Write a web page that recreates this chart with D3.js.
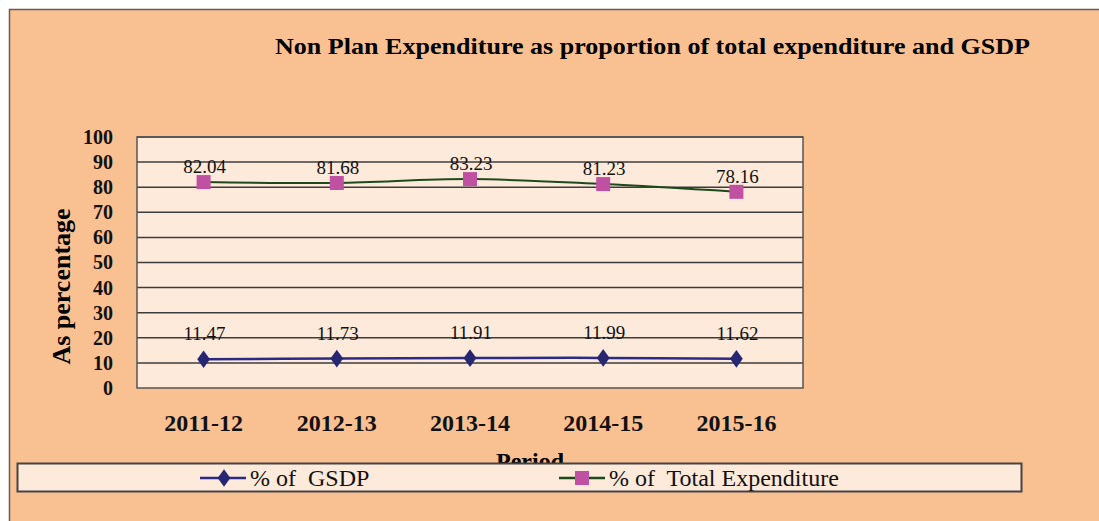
<!DOCTYPE html>
<html>
<head>
<meta charset="utf-8">
<script src="https://cdn.jsdelivr.net/npm/d3@7"></script>
<style>
  body { margin: 0; background: #fff; }
  svg { display: block; font-family: "Liberation Serif", "DejaVu Serif", serif; }
</style>
</head>
<body>
<svg width="1099" height="521"></svg>
<script>
const periods = ['2011-12', '2012-13', '2013-14', '2014-15', '2015-16'];
const gsdp = [11.47, 11.73, 11.91, 11.99, 11.62];
const totalExp = [82.04, 81.68, 83.23, 81.23, 78.16];
const yTicks = [0, 10, 20, 30, 40, 50, 60, 70, 80, 90, 100];

const svg = d3.select('svg');
const margin = {top: 137, left: 137, right: 296, bottom: 133};
const width = 1099 - margin.left - margin.right;
const height = 521 - margin.top - margin.bottom;

// outer chart area
svg.append('rect')
  .attr('x', 9.5).attr('y', 9.5).attr('width', 1100).attr('height', 520)
  .attr('fill', '#f9c092').attr('stroke', '#6b5a4e').attr('stroke-width', 1.5);

svg.append('text')
  .attr('x', 275).attr('y', 54)
  .attr('font-size', 23).attr('font-weight', 'bold')
  .attr('textLength', 755).attr('lengthAdjust', 'spacingAndGlyphs')
  .text('Non Plan Expenditure as proportion of total  expenditure and GSDP');

const x = d3.scaleBand().domain(periods).range([margin.left, margin.left + width]);
const y = d3.scaleLinear().domain([0, 100]).range([margin.top + height, margin.top]);

svg.append('rect')
  .attr('x', margin.left).attr('y', margin.top).attr('width', width).attr('height', height)
  .attr('fill', '#fdeadb');

svg.append('g')
  .selectAll('line')
  .data(yTicks.slice(1))
  .join('line')
  .attr('x1', margin.left).attr('x2', margin.left + width)
  .attr('y1', d => y(d)).attr('y2', d => y(d))
  .attr('stroke', '#3c3c3c').attr('stroke-width', 1.5);

svg.append('rect')
  .attr('x', margin.left).attr('y', margin.top).attr('width', width).attr('height', height)
  .attr('fill', 'none').attr('stroke', '#555').attr('stroke-width', 1.5);

const yAxis = svg.append('g')
  .attr('transform', `translate(${margin.left},0)`)
  .call(d3.axisLeft(y).tickValues(yTicks).tickSize(0).tickPadding(24));
yAxis.select('.domain').remove();
yAxis.selectAll('text')
  .attr('font-family', '"Liberation Serif", serif')
  .attr('font-size', 20).attr('font-weight', 'bold').attr('fill', '#111');

const xAxis = svg.append('g')
  .attr('transform', `translate(0,${margin.top + height})`)
  .call(d3.axisBottom(x).tickSize(0).tickPadding(26));
xAxis.select('.domain').remove();
xAxis.selectAll('text')
  .attr('font-family', '"Liberation Serif", serif')
  .attr('font-size', 24).attr('font-weight', 'bold').attr('fill', '#111');

svg.append('text')
  .attr('transform', `translate(70,${margin.top + height / 2 + 24}) rotate(-90)`)
  .attr('text-anchor', 'middle')
  .attr('font-size', 26).attr('font-weight', 'bold')
  .text('As percentage');

svg.append('text')
  .attr('x', 530).attr('y', 469)
  .attr('text-anchor', 'middle')
  .attr('font-size', 24).attr('font-weight', 'bold')
  .text('Period');

const cx = (d, i) => x(periods[i]) + x.bandwidth() / 2;

const lineTotal = d3.line().x(cx).y(d => y(d)).curve(d3.curveCatmullRom);
const lineGsdp = d3.line().x(cx).y(d => y(d)).curve(d3.curveCatmullRom);

svg.append('path').datum(totalExp)
  .attr('d', lineTotal).attr('fill', 'none')
  .attr('stroke', '#1d4a1d').attr('stroke-width', 2);
svg.append('path').datum(gsdp)
  .attr('d', lineGsdp).attr('fill', 'none')
  .attr('stroke', '#2b2b85').attr('stroke-width', 2.5);

svg.append('g').selectAll('rect')
  .data(totalExp)
  .join('rect')
  .attr('x', (d, i) => cx(d, i) - 7).attr('y', d => y(d) - 7)
  .attr('width', 14).attr('height', 14)
  .attr('fill', '#c050a2');

const diamond = d3.symbol().type(d3.symbolDiamond).size(90);
svg.append('g').selectAll('path')
  .data(gsdp)
  .join('path')
  .attr('transform', (d, i) => `translate(${cx(d, i)},${y(d)}) scale(1.25,1)`)
  .attr('d', diamond)
  .attr('fill', '#262672');

svg.append('g').selectAll('text')
  .data(totalExp)
  .join('text')
  .attr('x', (d, i) => cx(d, i) + 1).attr('y', d => y(d) - 9)
  .attr('text-anchor', 'middle')
  .attr('font-size', 19).attr('fill', '#111')
  .text(d => d.toFixed(2));

svg.append('g').selectAll('text')
  .data(gsdp)
  .join('text')
  .attr('x', (d, i) => cx(d, i) + 1).attr('y', d => y(d) - 19)
  .attr('text-anchor', 'middle')
  .attr('font-size', 19).attr('fill', '#111')
  .text(d => d.toFixed(2));

// legend
const legend = svg.append('g');
legend.append('rect')
  .attr('x', 17.5).attr('y', 463.5).attr('width', 1004).attr('height', 28)
  .attr('fill', '#fdeadb').attr('stroke', '#444').attr('stroke-width', 2);

const legendItems = [
  {label: '% of  GSDP', color: '#2b2b85', marker: 'diamond', x: 200},
  {label: '% of  Total Expenditure', color: '#1d4a1d', marker: 'square', x: 559}
];
legendItems.forEach(item => {
  legend.append('line')
    .attr('x1', item.x).attr('x2', item.x + 46)
    .attr('y1', 478).attr('y2', 478)
    .attr('stroke', item.color).attr('stroke-width', 2.5);
  if (item.marker === 'diamond') {
    legend.append('path')
      .attr('transform', `translate(${item.x + 24},478) scale(1.25,1)`)
      .attr('d', diamond).attr('fill', '#262672');
  } else {
    legend.append('rect')
      .attr('x', item.x + 16).attr('y', 471).attr('width', 14).attr('height', 14)
      .attr('fill', '#c050a2');
  }
  legend.append('text')
    .attr('x', item.x + 50).attr('y', 486)
    .attr('font-size', 24).attr('fill', '#111')
    .style('white-space', 'pre')
    .text(item.label);
});
</script>
</body>
</html>
